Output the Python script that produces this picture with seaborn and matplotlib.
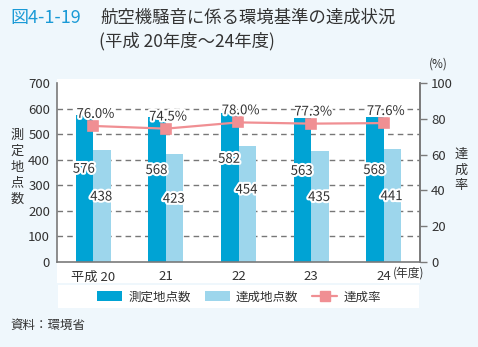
import numpy as np
import pandas as pd
import matplotlib
matplotlib.use("Agg")
import matplotlib.pyplot as plt
import matplotlib.patheffects as pe
from matplotlib.patches import Rectangle, Patch
from matplotlib.lines import Line2D
import seaborn as sns

# ---- data ----
years = ["平成 20", "21", "22", "23", "24"]
measured = [576, 568, 582, 563, 568]
achieved = [438, 423, 454, 435, 441]
rate = [76.0, 74.5, 78.0, 77.3, 77.6]
series_names = ["測定地点数", "達成地点数", "達成率"]

sns.set_theme(style="white")
plt.rcParams["font.family"] = ["Noto Sans CJK JP", "DejaVu Sans"]

DARK = "#00a3d4"
LIGHT = "#9dd6ec"
PINK = "#f08f93"
TXT = "#333333"
BG = "#eff7fc"
SPINE = "#7a7a7a"

W, H = 478, 347
fig = plt.figure(figsize=(W / 100, H / 100), dpi=100, facecolor=BG)

def fx(px):
    return px / W

def fy(py):
    return 1 - py / H

# white panels
fig.add_artist(Rectangle((fx(57), fy(283)), fx(420) - fx(57), fy(79) - fy(283),
                         transform=fig.transFigure, facecolor="white", edgecolor="none", zorder=0))
fig.add_artist(Rectangle((fx(58), fy(308)), fx(419) - fx(58), fy(285) - fy(308),
                         transform=fig.transFigure, facecolor="white", edgecolor="none", zorder=0))

ax = fig.add_axes([fx(57), fy(262), fx(420) - fx(57), fy(83) - fy(262)])
ax.set_facecolor("white")

df = pd.DataFrame({"year": years * 2,
                   "value": measured + achieved,
                   "series": [series_names[0]] * len(years) + [series_names[1]] * len(years)})

sns.barplot(data=df, x="year", y="value", hue="series", palette=[DARK, LIGHT],
            width=0.48, gap=0, dodge=True, ax=ax, legend=False, edgecolor="none",
            saturation=1, errorbar=None, zorder=2)

ax.set_xlim(-0.5, 4.5)
ax.set_ylim(0, 700)
ax.set_yticks(range(0, 701, 100))
ax.set_xlabel("")
ax.set_ylabel("")
for v in range(100, 700, 100):
    ax.axhline(v, color="#777777", lw=1.0, ls=(0, (4, 3)), zorder=1)
ax.tick_params(axis="y", length=0, labelsize=9.5, labelcolor=TXT, pad=5)
ax.tick_params(axis="x", length=0, labelsize=9.5, labelcolor=TXT, pad=6)
for s in ["left", "bottom", "right"]:
    ax.spines[s].set_color(SPINE)
    ax.spines[s].set_linewidth(1.2)
ax.spines["top"].set_visible(False)

halo = [pe.withStroke(linewidth=3, foreground="white")]
for i, (m, a) in enumerate(zip(measured, achieved)):
    ax.text(i - 0.13, m * 0.63 + (35 if i == 2 else 0), str(m), ha="center", va="center",
            fontsize=9.5, color=TXT, path_effects=halo, zorder=5)
    ax.text(i + 0.11, a * 0.58 + (18 if i == 2 else 0), str(a), ha="center", va="center",
            fontsize=9.5, color=TXT, path_effects=halo, zorder=5)

ax2 = ax.twinx()
sns.pointplot(x=years, y=rate, ax=ax2, color=PINK, markers="s", markersize=6.5,
              linewidth=1.6, zorder=4)
ax2.set_xlim(-0.5, 4.5)
ax2.set_ylim(0, 100)
ax2.set_yticks(range(0, 101, 20))
ax2.tick_params(axis="y", length=5, width=1.0, color=SPINE, labelsize=9.5, labelcolor=TXT, pad=3)
for s in ["left", "bottom", "top"]:
    ax2.spines[s].set_visible(False)
ax2.spines["right"].set_color(SPINE)
ax2.spines["right"].set_linewidth(1.2)
for i, r in enumerate(rate):
    ax2.text(i + 0.03, r + 6.5, f"{r:.1f}%", ha="center", va="center", fontsize=9.5,
             color=TXT, path_effects=halo, zorder=6)

# titles & labels
fig.text(fx(10), fy(18), "図4-1-19", fontsize=13, color="#1a9ad6", va="center", ha="left")
fig.text(fx(100), fy(18), "航空機騒音に係る環境基準の達成状況", fontsize=12.5, color=TXT,
         va="center", ha="left")
fig.text(fx(99), fy(41), "(平成 20年度～24年度)", fontsize=12.5, color=TXT, va="center", ha="left")
fig.text(fx(438), fy(64), "(%)", fontsize=8.5, color=TXT, va="center", ha="center")
fig.text(fx(17), fy(167), "\n".join("測定地点数"), fontsize=9.5, color=TXT, va="center",
         ha="center", linespacing=1.3)
fig.text(fx(461), fy(170), "\n".join("達成率"), fontsize=9.5, color=TXT, va="center",
         ha="center", linespacing=1.3)
fig.text(fx(393), fy(273), "(年度)", fontsize=8.5, color=TXT, va="center", ha="left")
fig.text(fx(10), fy(325), "資料：環境省", fontsize=9, color=TXT, va="center", ha="left")

handles = [Patch(facecolor=DARK, edgecolor="none"),
           Patch(facecolor=LIGHT, edgecolor="none"),
           Line2D([0], [0], color=PINK, lw=1.6, marker="s", markersize=6.5)]
leg = fig.legend(handles, series_names, loc="center", bbox_to_anchor=(fx(239), fy(297)),
                 ncol=3, frameon=False, fontsize=9, handlelength=2.0, handleheight=0.8,
                 columnspacing=1.1, handletextpad=0.5)
for t in leg.get_texts():
    t.set_color(TXT)

fig.savefig("out.png", dpi=100, facecolor=BG)
